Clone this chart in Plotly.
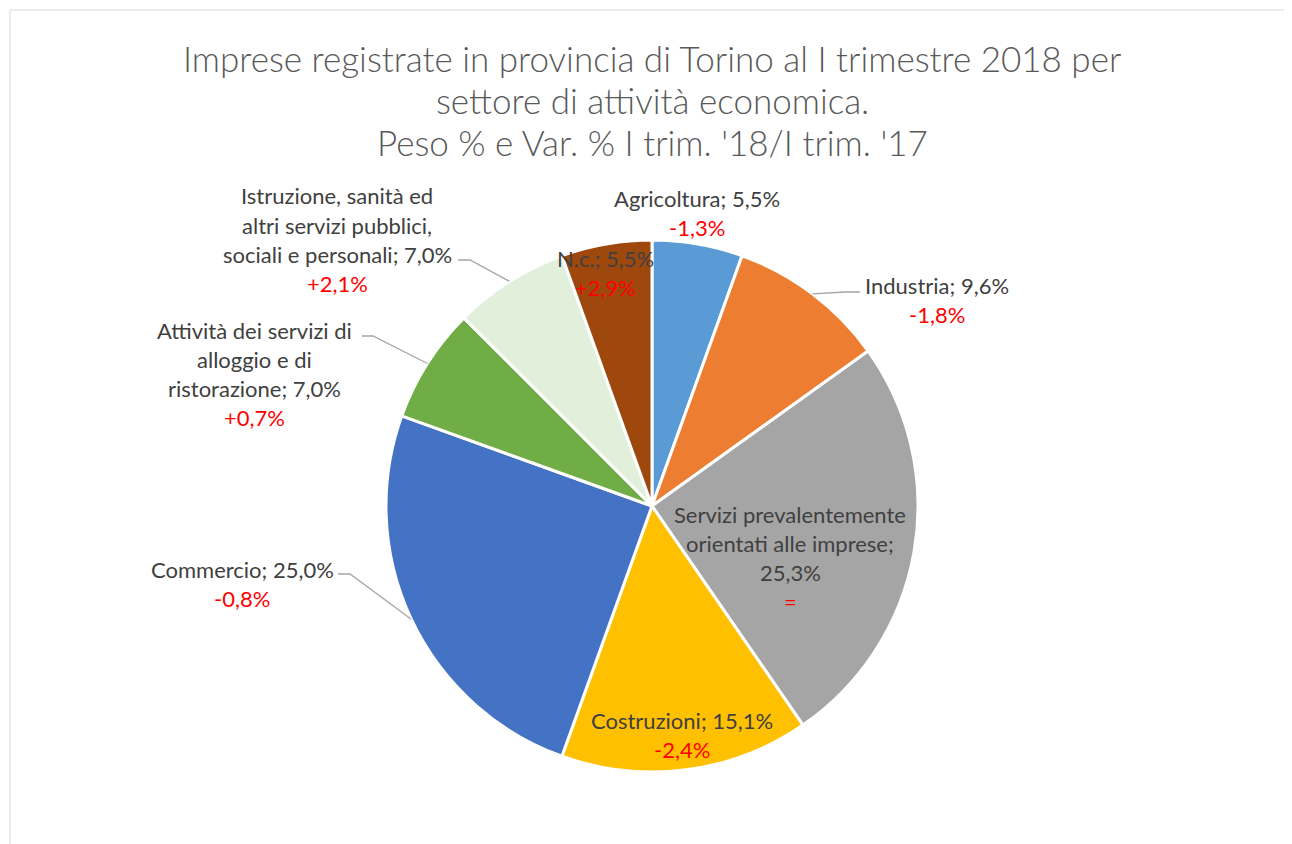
import math
import plotly.graph_objects as go

W, H = 1292, 844
OFF = 8  # page body margin

sectors = ["Agricoltura", "Industria", "Servizi prevalentemente orientati alle imprese",
           "Costruzioni", "Commercio", "Attività dei servizi di alloggio e di ristorazione",
           "Istruzione, sanità ed altri servizi pubblici, sociali e personali", "N.c."]
peso = [5.5, 9.6, 25.3, 15.1, 25.0, 7.0, 7.0, 5.5]
var_pct = ["-1,3%", "-1,8%", "=", "-2,4%", "-0,8%", "+0,7%", "+2,1%", "+2,9%"]
colors = ["#5B9BD5", "#ED7D31", "#A5A5A5", "#FFC000", "#4472C4", "#70AD47", "#E2EFDA", "#9E480E"]

title_lines = ["Imprese registrate in provincia di Torino al I trimestre 2018 per",
               "settore di attività economica.",
               "Peso % e Var. % I trim. '18/I trim. '17"]

label_lines = [
    ["Agricoltura; 5,5%"],
    ["Industria; 9,6%"],
    ["Servizi prevalentemente", "orientati alle imprese;", "25,3%"],
    ["Costruzioni; 15,1%"],
    ["Commercio; 25,0%"],
    ["Attività dei servizi di", "alloggio e di", "ristorazione; 7,0%"],
    ["Istruzione, sanità ed", "altri servizi pubblici,", "sociali e personali; 7,0%"],
    ["N.c.; 5,5%"],
]
label_pos = [(697, 198), (937, 285), (790, 514), (682, 720), (242, 569), (255, 330), (337, 196), (605, 258)]
step = 29.2
leaders = {1: (845, 292, 860), 4: (350, 574, 338), 5: (373, 336, 362), 6: (470, 260, 458)}

CX, CY, R = 652, 506, 266
FONT = "Lato"
GREY = "#404040"


def px(x):
    return (x - OFF) / W


def py(y):
    return 1 - (y - OFF) / H


fig = go.Figure()
fig.add_trace(go.Pie(
    labels=sectors, values=peso, sort=False, direction="clockwise", rotation=0,
    marker=dict(colors=colors, line=dict(color="white", width=3)),
    textinfo="none", hoverinfo="label+percent", showlegend=False,
    domain=dict(x=[px(CX - R), px(CX + R)], y=[py(CY + R), py(CY - R)]),
))

ann = []
for i, line in enumerate(title_lines):
    ann.append(dict(text=line, x=px(652), y=py(58 + 42 * i), xref="paper", yref="paper",
                    showarrow=False, xanchor="center", yanchor="middle",
                    font=dict(family=FONT, size=35, color="#595959", weight=300)))

for i, lines in enumerate(label_lines):
    x0, y0 = label_pos[i]
    allines = [(t, GREY) for t in lines] + [(var_pct[i], "#FF0000")]
    for j, (t, c) in enumerate(allines):
        ann.append(dict(text=t, x=px(x0), y=py(y0 + step * j), xref="paper", yref="paper",
                        showarrow=False, xanchor="center", yanchor="middle",
                        font=dict(family=FONT, size=22, color=c)))

shapes = [dict(type="rect", xref="paper", yref="paper", x0=px(10), x1=px(1400), y0=py(1000), y1=py(10),
               line=dict(color="#D9D9D9", width=1), fillcolor="rgba(0,0,0,0)")]

total = sum(peso)
cum = 0
for i, v in enumerate(peso):
    mid = (cum + v / 2) / total * 2 * math.pi
    cum += v
    if i in leaders:
        ex, ey, tx = leaders[i]
        sx = CX + R * math.sin(mid)
        sy = CY - R * math.cos(mid)
        path = f"M {px(sx)},{py(sy)} L {px(ex)},{py(ey)} L {px(tx)},{py(ey)}"
        shapes.append(dict(type="path", xref="paper", yref="paper", path=path,
                           line=dict(color="#A6A6A6", width=1.3)))

fig.update_layout(width=W, height=H, margin=dict(l=0, r=0, t=0, b=0),
                  paper_bgcolor="white", plot_bgcolor="white",
                  annotations=ann, shapes=shapes)
fig.write_html("out.html")
